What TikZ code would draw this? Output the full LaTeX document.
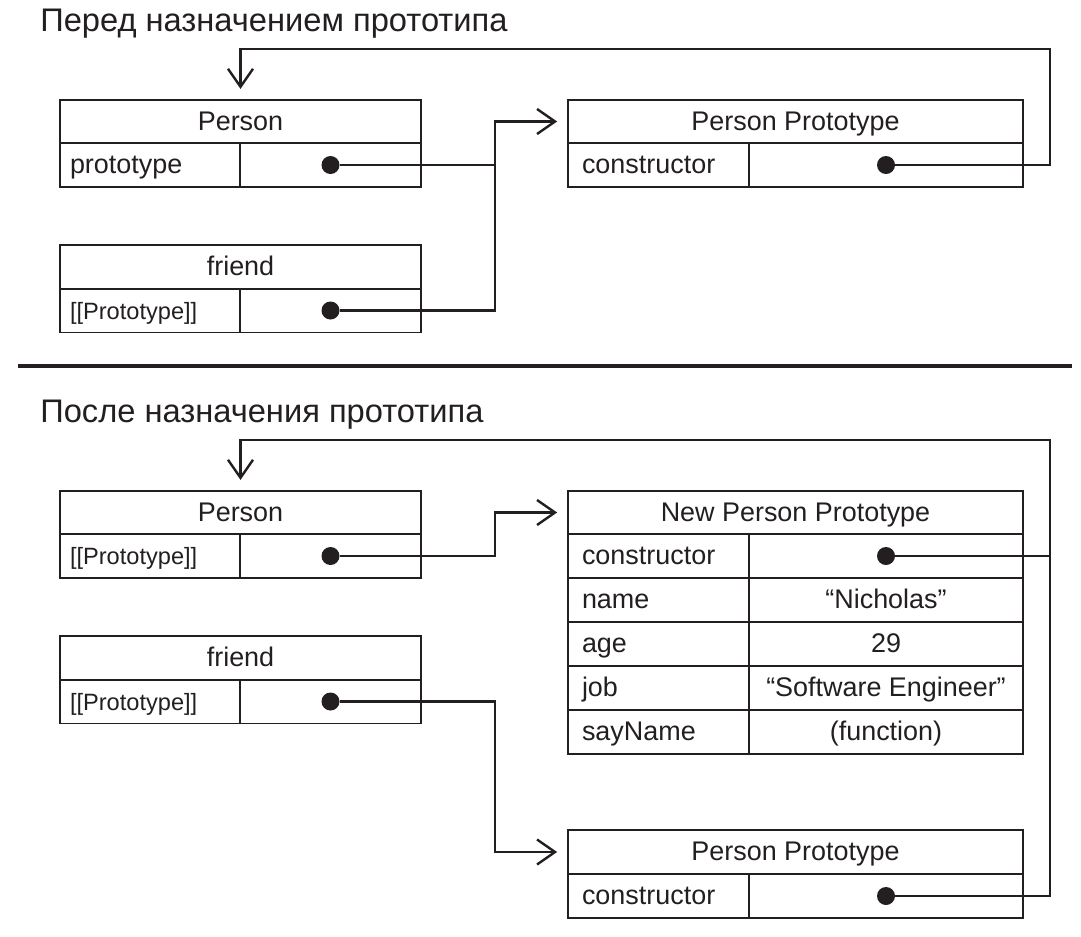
\documentclass[tikz,border=0pt]{standalone}
\usepackage{fontspec}
\setmainfont{Liberation Sans}
\usetikzlibrary{arrows.meta,calc}
\definecolor{ink}{HTML}{231F20}
\newcommand\fntN{\fontsize{20.2pt}{24pt}\selectfont}
\newcommand\fntS{\fontsize{17.7pt}{21pt}\selectfont}
\newcommand\fntT{\fontsize{24.5pt}{29pt}\selectfont}
\tikzset{
 box/.style={draw=ink, line width=1.3pt, rectangle, inner ysep=0pt, text height=12.8pt, text depth=0pt, text=ink, font=\fntN},
 hdrL/.style={box, minimum width=270.75pt, minimum height=32.6pt},
 hdrR/.style={box, minimum width=341.25pt, minimum height=32.6pt},
 keyL/.style={box, inner xsep=7.5pt, text width=120pt, align=left, minimum height=33pt},
 valL/.style={box, minimum width=135.75pt, minimum height=33pt},
 keyR/.style={box, inner xsep=10.5pt, text width=114.75pt, align=left, minimum height=33pt},
 valR/.style={box, minimum width=205.5pt, minimum height=33pt},
 dot/.style={circle, fill=ink, inner sep=0pt, minimum size=13.5pt},
 conn/.style={draw=ink, line width=1.8pt},
 arr/.style={conn, -{Straight Barb[length=13.5pt, width=18.75pt]}},
 ttl/.style={anchor=base west, inner sep=0pt, font=\fntT, text=ink},
}
\begin{document}
\begin{tikzpicture}[x=0.75pt,y=-0.75pt]
\useasboundingbox[fill=white] (0,0) rectangle (1081,936);

% titles and separator
\node[ttl] (t1) at (40,31) {Перед назначением прототипа};
\node[ttl] (t2) at (40,422) {После назначения прототипа};
\draw[ink, line width=2.3pt] (18,366) -- (1072,366);

% ---------- top part ----------
\node[hdrL] (p1h) at (240.5,121.5) {Person};
\node[keyL] (p1k) at (150,165) {prototype};
\node[valL] (p1v) at (330.5,165) {};

\node[hdrR] (pp1h) at (795.5,121.5) {Person Prototype};
\node[keyR] (pp1k) at (658.5,165) {constructor};
\node[valR] (pp1v) at (886,165) {};

\node[hdrL] (f1h) at (240.5,267) {friend};
\node[keyL, font=\fntS] (f1k) at (150,310.5) {[[Prototype]]};
\node[valL] (f1v) at (330.5,310.5) {};

% ---------- bottom part ----------
\node[hdrL] (p2h) at (240.5,512.5) {Person};
\node[keyL, font=\fntS] (p2k) at (150,556) {[[Prototype]]};
\node[valL] (p2v) at (330.5,556) {};

\node[hdrR] (npph) at (795.5,512.5) {New Person Prototype};
\node[keyR] (nk1) at (658.5,556) {constructor};
\node[valR] (nv1) at (886,556) {};
\node[keyR] (nk2) at (658.5,600) {name};
\node[valR] (nv2) at (886,600) {“Nicholas”};
\node[keyR] (nk3) at (658.5,644) {age};
\node[valR] (nv3) at (886,644) {29};
\node[keyR] (nk4) at (658.5,688) {job};
\node[valR] (nv4) at (886,688) {“Software Engineer”};
\node[keyR] (nk5) at (658.5,732) {sayName};
\node[valR] (nv5) at (886,732) {(function)};

\node[hdrL] (f2h) at (240.5,658) {friend};
\node[keyL, font=\fntS] (f2k) at (150,701.5) {[[Prototype]]};
\node[valL] (f2v) at (330.5,701.5) {};

\node[hdrR] (pp2h) at (795.5,852) {Person Prototype};
\node[keyR] (pp2k) at (658.5,896) {constructor};
\node[valR] (pp2v) at (886,896) {};

% dots
\node[dot] (p1d) at (p1v) {};
\node[dot] (f1d) at (f1v) {};
\node[dot] (pp1d) at (pp1v) {};
\node[dot] (p2d) at (p2v) {};
\node[dot] (f2d) at (f2v) {};
\node[dot] (n1d) at (nv1) {};
\node[dot] (pp2d) at (pp2v) {};

% ---------- connectors, top ----------
\draw[arr] (p1d) -- (495,165) |- ([xshift=-7.5pt]pp1h.west);
\draw[conn] (f1d) -- (495,310.5) -- (495,165);
\draw[arr] (pp1d) -- (1050,165) -- (1050,49) -| ([yshift=7.5pt]p1h.north);

% ---------- connectors, bottom ----------
\draw[arr] (p2d) -- (495,556) |- ([xshift=-7.5pt]npph.west);
\draw[arr] (f2d) -- (495,701.5) |- ([xshift=-7.5pt]pp2h.west);
\draw[arr] (pp2d) -- (1050,896) -- (1050,440) -| ([yshift=7.5pt]p2h.north);
\draw[conn] (n1d) -- (1050,556);
\end{tikzpicture}
\end{document}
